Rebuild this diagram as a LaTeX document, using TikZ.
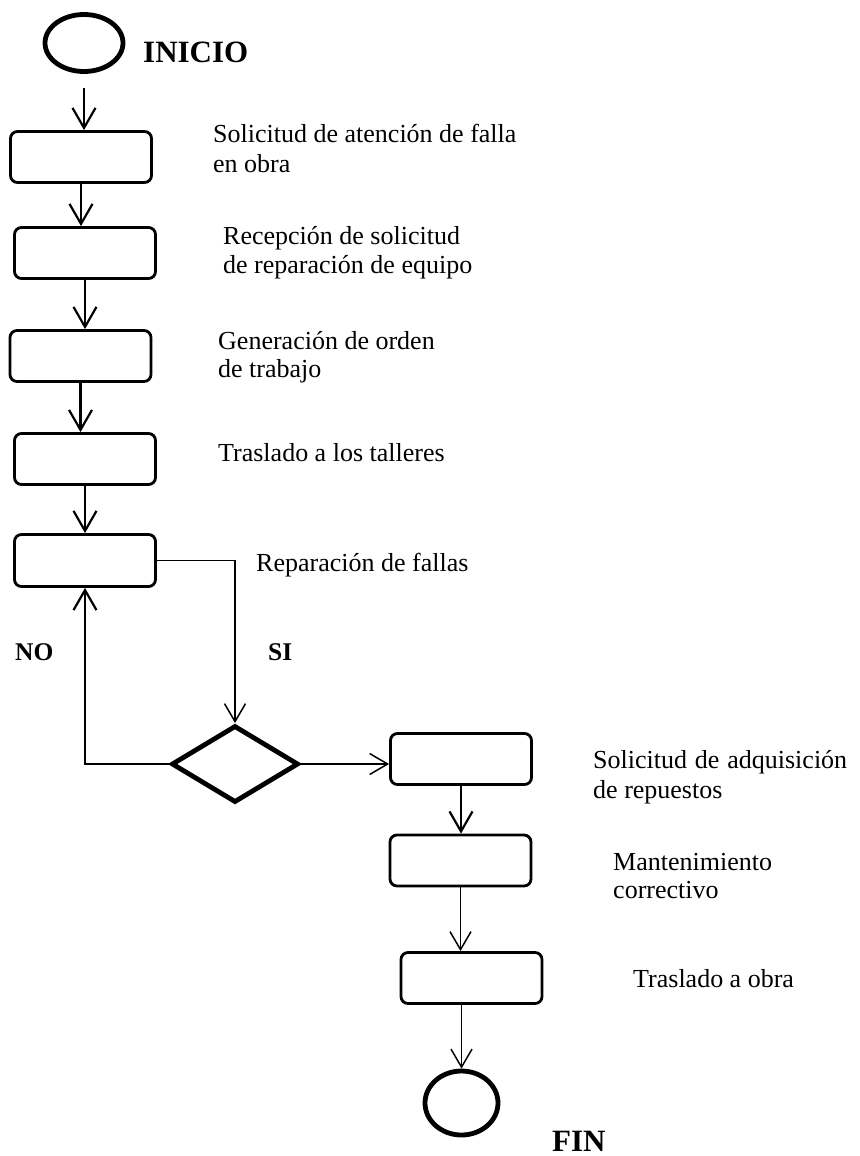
\documentclass[tikz,border=0pt]{standalone}
\usepackage{fontspec}
\setmainfont{Liberation Serif}
\usetikzlibrary{arrows.meta,shapes.geometric}
\begin{document}
\begin{tikzpicture}[x=1pt,y=-1pt,
  stepbox/.style={draw,line width=2.8pt,rounded corners=7pt,minimum width=141pt,minimum height=51pt,inner sep=0pt},
  terminal/.style={draw,ellipse,line width=4.8pt,inner sep=0pt},
  decision/.style={draw,diamond,line width=4.8pt,inner sep=0pt,minimum width=127pt,minimum height=77pt},
  link/.style={line width=2.2pt,-{Straight Barb[length=20pt,width=23pt]}},
  thinlink/.style={line width=1.5pt,-{Straight Barb[length=18pt,width=21pt]}},
  note/.style={anchor=base west,inner sep=0pt,font=\fontsize{26}{30}\selectfont},
  answer/.style={anchor=base west,inner sep=0pt,font=\fontsize{25.5}{30}\selectfont\bfseries},
  bigtag/.style={anchor=base west,inner sep=0pt,font=\fontsize{31}{36}\selectfont\bfseries}]
\useasboundingbox (0,0) rectangle (859,1156);

% terminals, steps and the decision
\node[terminal,minimum width=78pt,minimum height=57pt] (start) at (84,43) {};
\node[bigtag] (tstart) at (143,63) {INICIO};
\node[stepbox] (b1) at (81,157) {};
\node[stepbox] (b2) at (85,253) {};
\node[stepbox] (b3) at (80.5,356) {};
\node[stepbox] (b4) at (85,459) {};
\node[stepbox,minimum height=52pt] (b5) at (85,560.5) {};
\node[decision] (dec) at (235,764) {};
\node[stepbox] (b6) at (461,759) {};
\node[stepbox] (b7) at (460.5,860.5) {};
\node[stepbox] (b8) at (471.5,978) {};
\node[terminal,minimum width=73pt,minimum height=64pt] (end) at (461.5,1103) {};
\node[bigtag] (tend) at (552,1151) {FIN};

% step descriptions
\node[note] (l1a) at (213,142) {Solicitud de atención de falla};
\node[note] (l1b) at (213,172) {en obra};
\node[note] (l2a) at (223,244) {Recepción de solicitud};
\node[note] (l2b) at (223,273) {de reparación de equipo};
\node[note] (l3a) at (218,349) {Generación de orden};
\node[note] (l3b) at (218,377) {de trabajo};
\node[note] (l4) at (218,461) {Traslado a los talleres};
\node[note] (l5) at (256,571) {Reparación de fallas};
\node[answer] (no) at (15,660) {NO};
\node[answer] (si) at (268,660) {SI};
\node[note] (l6a) at (593,768) {\makebox[254pt][s]{Solicitud de adquisición}};
\node[note] (l6b) at (593,798) {de repuestos};
\node[note] (l7a) at (613,870) {Mantenimiento};
\node[note] (l7b) at (613,898) {correctivo};
\node[note] (l8) at (633,987) {Traslado a obra};

% connectors
\draw[link,shorten <=14pt] (start.south) -- (start.south |- b1.north);
\draw[link] (b1.south) -- (b1.south |- b2.north);
\draw[link] (b2.south) -- (b2.south |- b3.north);
\draw[link] (b3.south) -- (b3.south |- b4.north);
\draw[link] (b4.south) -- (b4.south |- b5.north);
\draw[thinlink] (b5.east) -| (dec.north);
\draw[link] (dec.west) -| (b5.south);
\draw[thinlink] (dec.east) -- (dec.east -| b6.west);
\draw[link] (b6.south) -- (b6.south |- b7.north);
\draw[thinlink] (b7.south) -- (b7.south |- b8.north);
\draw[thinlink] (end.north |- b8.south) -- (end.north);
\end{tikzpicture}
\end{document}
